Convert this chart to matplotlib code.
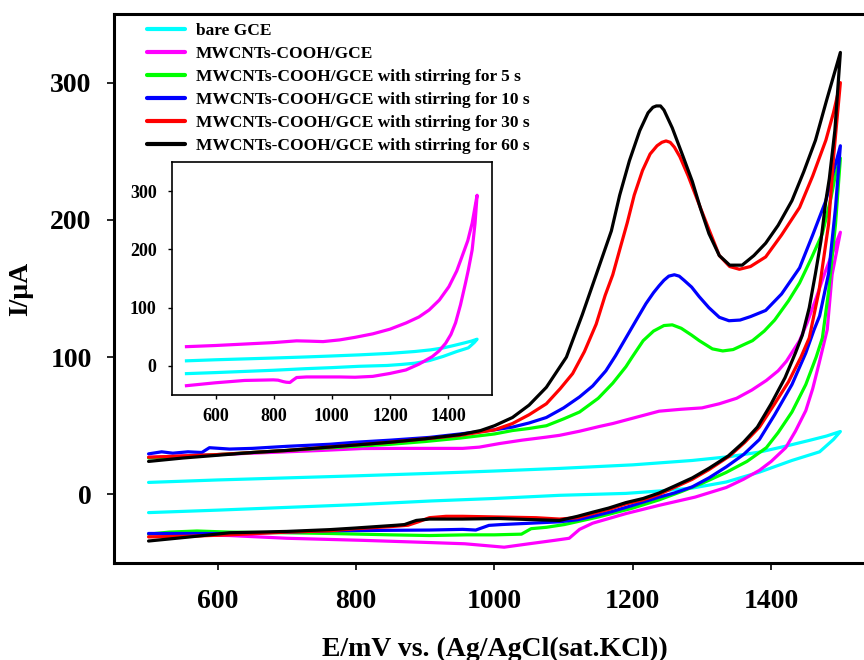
import matplotlib
matplotlib.use('Agg')
import matplotlib.pyplot as plt

plt.rcParams['font.family'] = ['Liberation Serif', 'DejaVu Serif']
plt.rcParams['font.weight'] = 'bold'

labels = ['bare GCE', 'MWCNTs-COOH/GCE',
          'MWCNTs-COOH/GCE with stirring for 5 s',
          'MWCNTs-COOH/GCE with stirring for 10 s',
          'MWCNTs-COOH/GCE with stirring for 30 s',
          'MWCNTs-COOH/GCE with stirring for 60 s']
colors = ['#00FFFF', '#FF00FF', '#00FF00', '#0000FF', '#FF0000', '#000000']

# bare GCE
bare_fwd_E = [500, 600, 700, 800, 909, 1000, 1094, 1200, 1286, 1340, 1383, 1420, 1455, 1480, 1500]
bare_fwd_I = [8.7, 10.5, 12, 13.5, 15.3, 17, 18.9, 21.5, 24.7, 27.5, 30.8, 35, 39.3, 42.5, 45.8]
bare_rev_E = [1500, 1490, 1470, 1430, 1383, 1335, 1286, 1240, 1190, 1094, 1000, 909, 800, 700, 600, 500]
bare_rev_I = [45.8, 40, 31, 24.7, 16.2, 9, 4.6, 2.5, 0.7, -0.7, -3, -4.8, -7.5, -9.5, -11.5, -13.3]

# MWCNTs-COOH/GCE
mw_fwd_E = [500, 550, 600, 650, 700, 750, 809, 863, 910, 954, 978, 1007, 1040, 1075, 1094, 1123, 1152,
            1171, 1200, 1238, 1270, 1300, 1325, 1350, 1372, 1393, 1410, 1422, 1441, 1452, 1465, 1478,
            1490, 1500]
mw_fwd_I = [27, 28, 29, 30, 31, 32, 33.4, 33.5, 33.5, 33.5, 34.4, 37, 39.5, 41.7, 43, 46, 49.5,
            51.6, 55.5, 60.6, 62, 63, 66, 70, 76, 83, 90, 97, 112, 125, 143, 162,
            178, 191]
mw_rev_E = [1500, 1488, 1481, 1469, 1460, 1450, 1435, 1421, 1400, 1383, 1360, 1335, 1290, 1238, 1190,
            1142, 1123, 1108, 1087, 1050, 1014, 957, 900, 809, 700, 617, 560, 500]
mw_rev_I = [191, 160, 120, 95, 77, 61, 46, 34, 24, 17.5, 11, 5, -2, -8, -14,
            -21, -25.5, -32, -33.5, -36, -38.5, -36, -35, -33.5, -32, -30, -29.5, -29]

# stirring 5 s
s5_fwd_E = [500, 550, 600, 650, 700, 750, 800, 850, 900, 950, 1000, 1026, 1050, 1075, 1100, 1123, 1150,
            1171, 1190, 1199, 1215, 1230, 1245, 1257, 1270, 1285, 1296, 1315, 1330, 1345, 1360, 1373,
            1390, 1405, 1425, 1441, 1458, 1474, 1486, 1493, 1500]
s5_fwd_I = [26.5, 27.5, 29, 30.5, 32, 33.5, 35, 36.5, 38.5, 41, 44, 46.5, 48, 50, 55, 60, 70,
            81, 93, 100, 112, 119, 123, 123.5, 121, 116, 112, 106, 104.5, 105.5, 109, 112,
            119, 127, 141, 154, 172, 190, 215, 233, 245]
s5_rev_E = [1500, 1493, 1483, 1474, 1465, 1450, 1430, 1410, 1393, 1365, 1335, 1300, 1270, 1238, 1200,
            1150, 1101, 1075, 1053, 1039, 1000, 960, 906, 850, 762, 700, 617, 570, 530, 500]
s5_rev_I = [245, 197, 148, 114, 100, 80, 60, 45, 34, 24, 16, 8, 2, -4, -10,
            -16.5, -22, -24, -25, -29, -29.5, -29.5, -30, -29.5, -28.5, -28, -27.5, -26.7, -27.5, -29]

# stirring 10 s
s10_fwd_E = [500, 519, 535, 557, 577, 588, 617, 650, 700, 762, 800, 850, 906, 950, 1000, 1026, 1050,
             1075, 1100, 1123, 1142, 1161, 1175, 1190, 1205, 1219, 1230, 1238, 1245, 1252, 1260, 1267,
             1274, 1285, 1296, 1310, 1325, 1339, 1355, 1370, 1392, 1415, 1441, 1460, 1479, 1490, 1500]
s10_fwd_I = [29.5, 31, 30, 31, 30.5, 34, 33, 33.5, 35, 36.5, 38, 39.5, 41.5, 44, 47, 49, 52,
             56, 63, 71, 79, 90, 101, 114, 127, 139, 147, 152, 156, 159, 160, 159,
             156, 151, 144, 136, 129, 126.5, 127, 129.5, 134, 146, 165, 189, 214, 235, 254]
s10_rev_E = [1500, 1493, 1483, 1470, 1462, 1450, 1430, 1405, 1383, 1360, 1335, 1310, 1286, 1260, 1238,
             1200, 1170, 1142, 1120, 1094, 1053, 1010, 992, 973, 954, 906, 850, 762, 700, 617, 560, 500]
s10_rev_I = [254, 209, 161, 130, 120, 103, 80, 58, 40, 29, 20, 12, 5.5, 1, -2,
             -8, -12.5, -16, -18.5, -20, -21, -22, -22.6, -26, -25.5, -26, -26.2, -26.5, -27.5, -28.5,
             -28.5, -28.5]

# stirring 30 s
s30_fwd_E = [500, 550, 600, 650, 700, 750, 800, 850, 900, 950, 1000, 1026, 1050, 1075, 1095, 1113, 1130,
             1147, 1160, 1171, 1182, 1192, 1202, 1214, 1225, 1235, 1242, 1248, 1254, 1260, 1268, 1280,
             1296, 1310, 1325, 1340, 1354, 1370, 1392, 1415, 1441, 1460, 1479, 1490, 1500]
s30_fwd_I = [27, 28, 29, 30.5, 32, 34, 36, 38, 40.5, 43, 47, 51.6, 58, 66, 77, 88, 104,
             124, 145, 160, 180, 198, 218, 236, 248, 254, 256.5, 257.5, 256.5, 253, 246, 232,
             211, 193, 174, 166, 164, 166, 173, 189, 209, 232, 258, 278, 300]
s30_rev_E = [1500, 1490, 1483, 1469, 1455, 1443, 1425, 1405, 1383, 1362, 1340, 1310, 1286, 1260, 1238,
             1215, 1190, 1165, 1142, 1120, 1094, 1060, 1006, 954, 930, 906, 890, 875, 850, 800, 762,
             700, 617, 560, 500]
s30_rev_I = [300, 245, 197, 148, 114, 100, 82, 66, 49, 38, 28, 18, 11, 5, 0,
             -4, -7, -11, -14, -17, -18, -17, -16.5, -16, -16, -17, -20, -22.5, -23.5, -25, -26.5,
             -27.5, -29.5, -30.5, -31]

# stirring 60 s
s60_fwd_E = [500, 550, 600, 650, 700, 750, 800, 850, 900, 950, 980, 1000, 1026, 1050, 1075, 1104, 1127,
             1147, 1169, 1181, 1195, 1210, 1222, 1229, 1234, 1240, 1245, 1257, 1272, 1286, 1298, 1310,
             1325, 1340, 1358, 1375, 1392, 1410, 1430, 1447, 1464, 1480, 1500]
s60_fwd_I = [24, 26.5, 28.5, 30.5, 32, 34, 36, 38, 40.5, 43.5, 46.5, 50, 56, 65, 78, 100, 131,
             160, 192, 218, 243, 265, 278, 282, 283, 283, 280, 267, 247, 228, 208, 190,
             174, 167, 167, 174, 183, 196, 214, 235, 258, 287, 322]
s60_rev_E = [1500, 1492, 1484, 1479, 1472, 1464, 1455, 1445, 1435, 1420, 1400, 1380, 1360, 1338, 1310,
             1286, 1260, 1238, 1215, 1190, 1165, 1142, 1120, 1094, 1060, 1006, 954, 906, 887, 870, 858,
             800, 762, 700, 617, 560, 500]
s60_rev_I = [322, 265, 230, 214, 185, 161, 136, 116, 103, 85, 66, 49, 38, 28, 19,
             12, 6, 1, -3, -6, -10, -13, -16, -19, -18.5, -17.6, -18, -18, -19, -22, -22.5,
             -24.5, -25.7, -27, -28, -31, -34]

# inset: MWCNTs-COOH/GCE on its own
ins_fwd_E = [500, 600, 700, 799, 879, 920, 970, 1027, 1080, 1141, 1200, 1256, 1300, 1335, 1370, 1403,
             1430, 1448, 1468, 1483, 1500]
ins_fwd_I = [33, 35, 37.5, 40, 43, 42.5, 41.7, 44.6, 49, 55, 63, 73.8, 84, 96, 113, 136,
             163, 187.5, 215, 245, 293]
ins_rev_E = [1500, 1493, 1483, 1470, 1460, 1443, 1426, 1410, 1392, 1370, 1346, 1300, 1255, 1200, 1141,
             1080, 1027, 970, 913, 879, 865, 856, 843, 833, 815, 799, 700, 600, 500]
ins_rev_I = [293, 245, 199, 165, 142, 105, 74, 54, 39, 26, 16, 3, -7, -13, -18,
             -19.5, -19, -19, -19, -20, -25, -28.5, -28, -27, -24.5, -24, -25, -29, -34]

curves = [(bare_fwd_E, bare_fwd_I, bare_rev_E, bare_rev_I),
          (mw_fwd_E, mw_fwd_I, mw_rev_E, mw_rev_I),
          (s5_fwd_E, s5_fwd_I, s5_rev_E, s5_rev_I),
          (s10_fwd_E, s10_fwd_I, s10_rev_E, s10_rev_I),
          (s30_fwd_E, s30_fwd_I, s30_rev_E, s30_rev_I),
          (s60_fwd_E, s60_fwd_I, s60_rev_E, s60_rev_I)]

fig = plt.figure(figsize=(8.64, 6.6), dpi=100)
ax = fig.add_axes([0.1319, 0.1470, 0.8808, 0.8318])

for (ef, jf, er, jr), c, lab in zip(curves, colors, labels):
    ax.plot(ef + er, jf + jr, color=c, lw=2.3, label=lab,
            solid_joinstyle='round', solid_capstyle='round')

ax.set_xlim(450, 1550)
ax.set_ylim(-50, 350)
ax.set_xticks([600, 800, 1000, 1200, 1400])
ax.set_yticks([0, 100, 200, 300])
ax.tick_params(direction='out', length=5, width=1.2, labelsize=20, top=False, right=False)
ax.tick_params(axis='x', pad=13.5)
ax.tick_params(axis='y', pad=11)
for s in ['left', 'bottom', 'top']:
    ax.spines[s].set_linewidth(2.2)
ax.spines['right'].set_visible(False)
ax.set_xlabel('E/mV vs. (Ag/AgCl(sat.KCl))', fontsize=20, fontweight='bold')
ax.set_ylabel('I/\u03bcA', fontsize=20, fontweight='bold')
ax.xaxis.set_label_coords(0.5, -0.134)
ax.yaxis.set_label_coords(-0.106, 0.5)

leg = ax.legend(loc='upper left', bbox_to_anchor=(0.170, 0.966), bbox_transform=fig.transFigure,
                frameon=False, fontsize=12.5, handlelength=2.2, handletextpad=0.63,
                labelspacing=0.40, borderpad=0, borderaxespad=0)
for ln in leg.get_lines():
    ln.set_linewidth(3)

# inset
axi = fig.add_axes([0.199, 0.4015, 0.370, 0.353])
axi.plot(bare_fwd_E + bare_rev_E, bare_fwd_I + bare_rev_I, color=colors[0], lw=2.3,
         solid_joinstyle='round')
axi.plot(ins_fwd_E + ins_rev_E, ins_fwd_I + ins_rev_I, color=colors[1], lw=2.3,
         solid_joinstyle='round')
axi.set_xlim(450, 1550)
axi.set_ylim(-50, 350)
axi.set_xticks([600, 800, 1000, 1200, 1400])
axi.set_yticks([0, 100, 200, 300])
axi.tick_params(direction='out', length=3, width=1, labelsize=13)
axi.tick_params(axis='x', pad=6)
axi.tick_params(axis='y', pad=8)
for s in axi.spines.values():
    s.set_linewidth(1.2)

fig.savefig('out.png', dpi=100)
